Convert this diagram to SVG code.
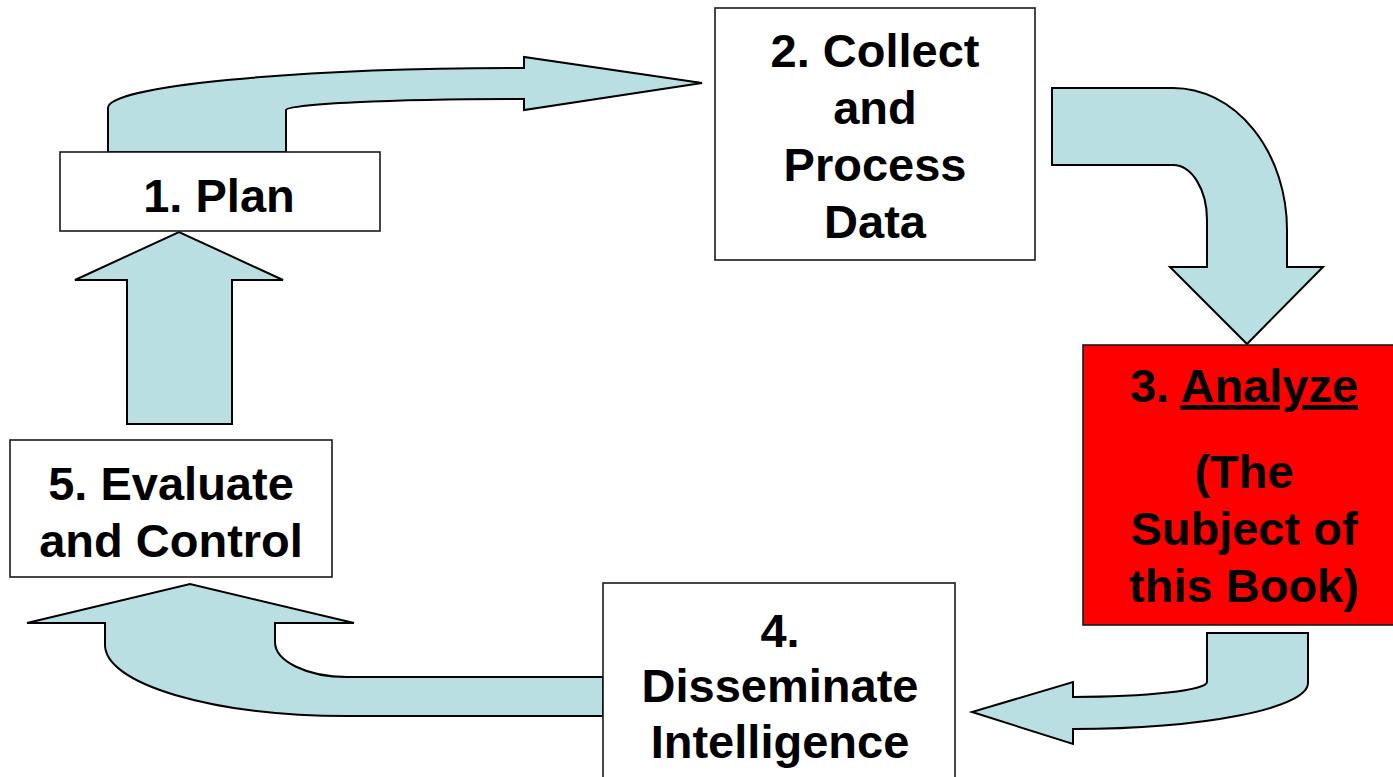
<svg xmlns="http://www.w3.org/2000/svg" width="1393" height="777" viewBox="0 0 1393 777">
  <style>
    .flow { fill: #B9DFE2; stroke: #000; stroke-width: 2; stroke-linejoin: miter; }
    .box { fill: #fff; stroke: #1a1a1a; stroke-width: 1.6; }
    .hot { fill: #FF0000; stroke: #1a1a1a; stroke-width: 1.6; }
    .lbl { font-family: "Liberation Sans", Arial, sans-serif; font-weight: bold; font-size: 47px; fill: #000; text-anchor: middle; }
  </style>
  <rect width="1393" height="777" fill="#fff"/>

  <!-- cycle arrows -->
  <g id="connectors">
    <path class="flow" d="M108,152 V108 A416,40 0 0 1 524,68 V57 L702,83 L524,110 V99 A238,11 0 0 0 286,110 V152 Z"/>
    <path class="flow" d="M1052,88 H1173 A114,142 0 0 1 1287,230 V267 H1323 L1247,344 L1170,267 H1207 V220 A34,55 0 0 0 1173,165 H1052 Z"/>
    <path class="flow" d="M1207,633 H1308 V683 A235,46 0 0 1 1073,729 V744 L972,712 L1073,682 V697 A134,15 0 0 0 1207,682 Z"/>
    <path class="flow" d="M603,677 H347 A72,35 0 0 1 275,642 V623 H354 L190,584 L27,623 H105 V645 A242,71 0 0 0 347,716 H603 Z"/>
    <path class="flow" d="M127,424 V280 H75 L179,232 L283,280 H232 V424 Z"/>
  </g>

  <g id="plan">
    <rect class="box" x="60" y="152" width="320" height="79"/>
    <text class="lbl" x="219" y="212">1. Plan</text>
  </g>

  <g id="collect">
    <rect class="box" x="715" y="8" width="320" height="252"/>
    <text class="lbl" x="875" y="67">2. Collect</text>
    <text class="lbl" x="875" y="124">and</text>
    <text class="lbl" x="875" y="181">Process</text>
    <text class="lbl" x="875" y="238">Data</text>
  </g>

  <g id="analyze">
    <rect class="hot" x="1083" y="345" width="320" height="280"/>
    <text class="lbl" x="1244" y="402">3. <tspan text-decoration="underline">Analyze</tspan></text>
    <text class="lbl" x="1244" y="488">(The</text>
    <text class="lbl" x="1244" y="545">Subject of</text>
    <text class="lbl" x="1244" y="602">this Book)</text>
  </g>

  <g id="disseminate">
    <rect class="box" x="603" y="583" width="352" height="200"/>
    <text class="lbl" x="780" y="647">4.</text>
    <text class="lbl" x="780" y="702">Disseminate</text>
    <text class="lbl" x="780" y="758">Intelligence</text>
  </g>

  <g id="evaluate">
    <rect class="box" x="10" y="440" width="322" height="137"/>
    <text class="lbl" x="171" y="500">5. Evaluate</text>
    <text class="lbl" x="171" y="557">and Control</text>
  </g>
</svg>
